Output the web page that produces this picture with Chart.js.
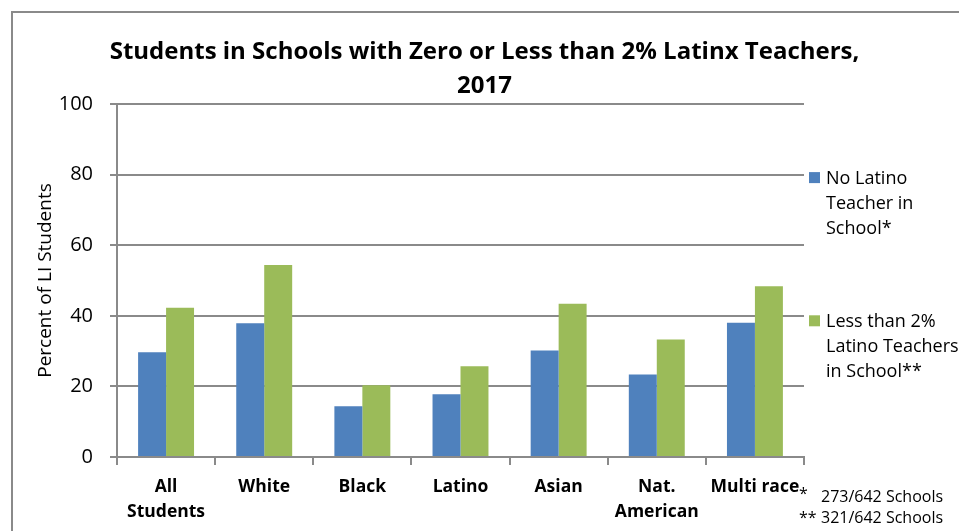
<!DOCTYPE html>
<html>
<head>
<meta charset="utf-8">
<script src="https://cdn.jsdelivr.net/npm/chart.js@4"></script>
<style>
  body { margin: 0; background: #fff; }
  #wrap { width: 959px; height: 531px; }
</style>
</head>
<body>
<div id="wrap"><canvas id="chart" width="959" height="531"></canvas></div>
<script>
const groups = [['All', 'Students'], 'White', 'Black', 'Latino', 'Asian', ['Nat.', 'American'], 'Multi race']
const noLatino = [29.7, 37.9, 14.4, 17.8, 30.2, 23.4, 38.0]
const underTwo = [42.3, 54.4, 20.3, 25.7, 43.4, 33.3, 48.4]
const seriesNames = [['No Latino', 'Teacher in', 'School*'], ['Less than 2%', 'Latino Teachers', 'in School**']]
const footnotes = [['*', '273/642 Schools'], ['**', '321/642 Schools']]
const yTicks = [0, 20, 40, 60, 80, 100]

const blue = '#4f81bd'
const green = '#9bbb59'
const gray = '#8a8a8a'
const font = '"Open Sans"'

// box on the right that keeps room for the wrapped legend
const sideLegend = {
  id: 'sideLegend',
  beforeInit (chart) {
    const box = {
      position: 'right',
      weight: 0,
      fullSize: false,
      options: {},
      left: 0, top: 0, right: 0, bottom: 0, width: 0, height: 0,
      update (maxWidth, maxHeight) { this.width = 155; this.height = maxHeight },
      isHorizontal () { return false },
      getPadding () { return { top: 0, left: 0, right: 0, bottom: 0 } },
      draw () {}
    }
    Chart.layouts.addBox(chart, box)
  },
  beforeDraw (chart) {
    const ctx = chart.ctx
    ctx.save()
    ctx.fillStyle = '#fff'
    ctx.fillRect(0, 0, chart.width, chart.height)
    ctx.strokeStyle = gray
    ctx.lineWidth = 2
    ctx.strokeRect(12, 12, chart.width + 20, chart.height + 20)
    ctx.restore()
  },
  afterDraw (chart) {
    const ctx = chart.ctx
    const x0 = chart.chartArea.right + 5
    const colors = [blue, green]
    const y = chart.scales.y
    const starts = [y.getPixelForValue(80) + 3, y.getPixelForValue(40) + 5]
    ctx.save()
    ctx.font = '18px ' + font
    ctx.textBaseline = 'middle'
    ctx.fillStyle = '#000'
    seriesNames.forEach((lines, i) => {
      ctx.fillStyle = colors[i]
      ctx.fillRect(x0, starts[i] - 5.5, 11, 11)
      ctx.fillStyle = '#000'
      lines.forEach((t, j) => ctx.fillText(t, x0 + 17, starts[i] + 1 + j * 25))
    })
    ctx.font = '16px ' + font
    footnotes.forEach((f, i) => {
      const ly = 497 + i * 21
      ctx.fillText(f[0], 799, ly - (i === 0 ? 3 : 0))
      ctx.fillText(f[1], 821, ly)
    })
    ctx.restore()
  }
}

new Chart(document.getElementById('chart'), { // eslint-disable-line
  type: 'bar',
  data: {
    labels: groups,
    datasets: [
      { label: seriesNames[0].join(' '), data: noLatino, backgroundColor: blue },
      { label: seriesNames[1].join(' '), data: underTwo, backgroundColor: green }
    ]
  },
  options: {
    responsive: false,
    animation: false,
    layout: { padding: { left: 10, right: 0, top: 0, bottom: 0 } },
    datasets: {
      bar: { barPercentage: 1, categoryPercentage: 0.57 }
    },
    plugins: {
      legend: { display: false },
      tooltip: { enabled: false },
      title: {
        display: true,
        text: ['Students in Schools with Zero or Less than 2% Latinx Teachers,', '2017'],
        color: '#000',
        font: { family: font, size: 24, weight: 'bold', lineHeight: '34px' },
        padding: { top: 35, bottom: 1 }
      }
    },
    scales: {
      x: {
        afterFit: (scale) => { scale.height = 74 },
        grid: { display: true, drawOnChartArea: false, drawTicks: true, tickLength: 8, offset: true, color: gray, lineWidth: 2 },
        border: { display: true, color: gray, width: 2 },
        ticks: {
          color: '#000',
          padding: 10,
          maxRotation: 0,
          autoSkip: false,
          font: { family: font, size: 17.5, weight: 'bold', lineHeight: '25px' }
        }
      },
      y: {
        min: 0,
        max: 100,
        afterFit: (scale) => { scale.width = 107 },
        afterBuildTicks: (scale) => { scale.ticks = yTicks.map(v => ({ value: v })) },
        grid: { color: gray, lineWidth: 2, tickLength: 7 },
        border: { display: true, color: gray, width: 2 },
        ticks: { color: '#000', padding: 17, font: { family: font, size: 20 } },
        title: {
          display: true,
          text: 'Percent of LI Students',
          color: '#000',
          padding: { top: 24, bottom: 0 },
          font: { family: font, size: 19 }
        }
      }
    }
  },
  plugins: [sideLegend]
})
</script>
</body>
</html>
